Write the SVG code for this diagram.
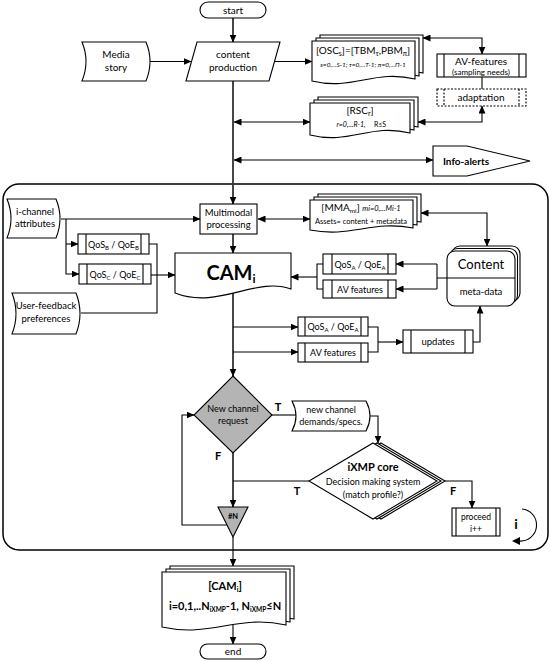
<svg xmlns="http://www.w3.org/2000/svg" width="550" height="661" viewBox="0 0 550 661" font-size="10">
<defs>
<marker id="ar" markerUnits="userSpaceOnUse" markerWidth="8" markerHeight="7" refX="7.5" refY="3.5" orient="auto-start-reverse"><path d="M0,0 L8,3.5 L0,7 Z" fill="#000"/></marker>
<style>
.s{fill:#fff;stroke:#000;stroke-width:1.1}
.g{fill:#b4b4b4;stroke:#000;stroke-width:1.1}
.d{fill:#fff;stroke:#000;stroke-width:1.1;stroke-dasharray:2,1.5}
.t{font-family:Lato,"Open Sans","DejaVu Sans",sans-serif;text-anchor:middle;fill:#000}
.b{font-weight:bold}
.i{font-style:italic}
.c{fill:none;stroke:#000;stroke-width:1.1}
.m{fill:none;stroke:#333;stroke-width:1.8}
.a{marker-end:url(#ar)}
.aa{marker-start:url(#ar);marker-end:url(#ar)}
</style>
</defs>
<rect x="3" y="184" width="545" height="366" rx="16" fill="none" stroke="#000" stroke-width="1.5"/>
<g id="connectors">
<path class="m a" d="M233,18 V42"/>
<path class="c a" d="M150,61.5 H191"/>
<path class="c a" d="M275,61.5 H312"/>
<path class="m a" d="M233,81 V204"/>
<path class="c aa" d="M234,122 H310"/>
<path class="c aa" d="M234,160 H433"/>
<path class="c aa" d="M423,38 H482 V54"/>
<path class="c" d="M482,77 V89"/>
<path class="c aa" d="M418,122 H482 V106"/>
<path class="c a" d="M61,219 H200"/>
<path class="c a" d="M66,219 V274 H79"/>
<path class="c a" d="M66,244 H78"/>
<path class="c" d="M149,244 H157 V313 H81"/>
<path class="c a" d="M151,275 H175"/>
<path class="m a" d="M233,234 V253"/>
<path class="c aa" d="M258,219 H310"/>
<path class="c aa" d="M421,213 H487 V246"/>
<path class="c" d="M447,278 H437 M437,264 V289"/>
<path class="c a" d="M437,264 H396"/>
<path class="c a" d="M437,289 H396"/>
<path class="c" d="M323,264 H317 V289 H323"/>
<path class="c a" d="M317,277 H291"/>
<path class="m a" d="M233,293 V376"/>
<path class="c a" d="M233,327 H298"/>
<path class="c a" d="M233,352 H298"/>
<path class="c" d="M368,327 H378 V352 H368"/>
<path class="c a" d="M378,342 H403"/>
<path class="c a" d="M473,342 H480 V306"/>
<path class="c" d="M272,415 H296"/>
<path class="c a" d="M370,416 H378 V443"/>
<path class="m a" d="M233,453 V507"/>
<path class="c" d="M309,481 H233"/>
<path class="c a" d="M227,525 H182 V415 H194"/>
<path class="c a" d="M233,537 V566"/>
<path class="c a" d="M445,481 H472 V508"/>
<path class="c a" d="M233,625 V644"/>
<path class="c" d="M522,509 A16,16 0 0 1 519,541"/>
<path d="M512,541 L520,537 L520,545 Z" fill="#000"/>
</g>
<g id="start"><rect class="s" x="200" y="2" width="66" height="16" rx="8"/><text class="t" x="233" y="14">start</text></g>
<g id="media"><path class="s" d="M82,42 H146 Q154,61.5 146,81 H82 Q90,61.5 82,42 Z"/><text class="t" x="116" y="58">Media</text><text class="t" x="116" y="71">story</text></g>
<g id="content-production"><polygon class="s" points="197,42 280,42 269,81 186,81"/><text class="t" x="233" y="58">content</text><text class="t" x="233" y="71">production</text></g>
<g id="osc">
<path class="s" transform="translate(8,-6)" d="M312,41 H415 V79 C373.8,69 353.2,91 312,81 Z"/>
<path class="s" transform="translate(4,-3)" d="M312,41 H415 V79 C373.8,69 353.2,91 312,81 Z"/>
<path class="s" d="M312,41 H415 V79 C373.8,69 353.2,91 312,81 Z"/>
<text class="t" x="363" y="54">[OSC<tspan font-size="7" dy="2">s</tspan><tspan dy="-2">]=[TBM</tspan><tspan font-size="7" dy="2">τ</tspan><tspan dy="-2">,PBM</tspan><tspan font-size="7" dy="2">π</tspan><tspan dy="-2">]</tspan></text>
<text class="t i" x="363" y="67" font-size="6.5">s=0,...S-1; τ=0,...T-1; π=0,...Π-1</text>
</g>
<g id="av-features"><rect class="s" x="437" y="54" width="89" height="23"/><path class="c" d="M444,54 V77 M519,54 V77"/><text class="t" x="481" y="64.5">AV-features</text><text class="t" x="481" y="74.5" font-size="8">(sampling needs)</text></g>
<g id="adaptation"><rect class="d" x="437" y="89" width="89" height="17"/><path class="c" stroke-dasharray="2,1.5" d="M444,89 V106 M519,89 V106"/><text class="t" x="481" y="101">adaptation</text></g>
<g id="rsc">
<path class="s" transform="translate(8,-6)" d="M310,103 H410 V133 C370,123 350,145 310,135 Z"/>
<path class="s" transform="translate(4,-3)" d="M310,103 H410 V133 C370,123 350,145 310,135 Z"/>
<path class="s" d="M310,103 H410 V133 C370,123 350,145 310,135 Z"/>
<text class="t" x="360" y="114">[RSC<tspan font-size="7" dy="2">r</tspan><tspan dy="-2">]</tspan></text>
<text class="t i" x="351" y="127" font-size="7">r=0,...R-1,</text>
<text class="t" x="380" y="127" font-size="7">R≤S</text>
</g>
<g id="info-alerts"><polygon class="s" points="433,146 467,146 530,161 467,176 433,176"/><text class="t b" x="466" y="164.5">Info-alerts</text></g>
<g id="multimodal"><rect class="s" x="200" y="204" width="57" height="30"/><text class="t" x="228.5" y="216" font-size="9.5">Multimodal</text><text class="t" x="228.5" y="228" font-size="9.5">processing</text></g>
<g id="i-channel"><path class="s" d="M7,199 H56 Q64,218.5 56,238 H7 Q15,218.5 7,199 Z"/><text class="t" x="35" y="215" font-size="9.5">i-channel</text><text class="t" x="35" y="227" font-size="9.5">attributes</text></g>
<g id="qos-b"><rect class="s" x="78" y="234" width="71" height="20"/><path class="c" d="M86,234 V254 M141,234 V254"/><text class="t" x="113.5" y="247.5" font-size="9">QoS<tspan font-size="6" dy="2">B</tspan><tspan dy="-2"> / QoE</tspan><tspan font-size="6" dy="2">B</tspan></text></g>
<g id="qos-c"><rect class="s" x="79" y="264" width="72" height="20"/><path class="c" d="M87,264 V284 M143,264 V284"/><text class="t" x="115" y="277.5" font-size="9">QoS<tspan font-size="6" dy="2">C</tspan><tspan dy="-2"> / QoE</tspan><tspan font-size="6" dy="2">C</tspan></text></g>
<g id="user-feedback"><path class="s" d="M12,293 H76 Q84,313.5 76,334 H12 Q20,313.5 12,293 Z"/><text class="t" x="46" y="309" font-size="9.5">User-feedback</text><text class="t" x="46" y="322" font-size="9.5">preferences</text></g>
<g id="cam"><path class="s" d="M175,253 H291 V289 C256,276 218,310 175,293 Z"/><text class="t b" x="231" y="280" font-size="20">CAM<tspan font-size="12" dy="3">i</tspan></text></g>
<g id="mma">
<path class="s" transform="translate(8,-6)" d="M310,200 H413 V228 C371.8,220 351.2,238 310,230 Z"/>
<path class="s" transform="translate(4,-3)" d="M310,200 H413 V228 C371.8,220 351.2,238 310,230 Z"/>
<path class="s" d="M310,200 H413 V228 C371.8,220 351.2,238 310,230 Z"/>
<text class="t" x="361" y="211">[MMA<tspan font-size="6.5" dy="2">mi</tspan><tspan dy="-2">] </tspan><tspan class="i" font-size="7.5">mi=0,...Mi-1</tspan></text>
<text class="t" x="361" y="224" font-size="7.5">Assets= content + metadata</text>
</g>
<g id="content">
<rect class="s" x="452" y="246" width="68" height="55" rx="8"/>
<rect class="s" x="449.5" y="248.5" width="68" height="55" rx="8"/>
<rect class="s" x="447" y="251" width="68" height="55" rx="8"/>
<path class="c" d="M447,278 H515"/>
<text class="t" x="481" y="269" font-size="13">Content</text>
<text class="t" x="481" y="295" font-size="9.5">meta-data</text>
</g>
<g id="qos-a-1"><rect class="s" x="323" y="254" width="73" height="20"/><path class="c" d="M332,254 V274 M388,254 V274"/><text class="t" x="360" y="267.5" font-size="9">QoS<tspan font-size="6" dy="2">A</tspan><tspan dy="-2"> / QoE</tspan><tspan font-size="6" dy="2">A</tspan></text></g>
<g id="av-1"><rect class="s" x="323" y="280" width="73" height="18"/><path class="c" d="M332,280 V298 M388,280 V298"/><text class="t" x="360" y="292.5" font-size="9">AV features</text></g>
<g id="qos-a-2"><rect class="s" x="298" y="317" width="70" height="19"/><path class="c" d="M305,317 V336 M361,317 V336"/><text class="t" x="333" y="330" font-size="9">QoS<tspan font-size="6" dy="2">A</tspan><tspan dy="-2"> / QoE</tspan><tspan font-size="6" dy="2">A</tspan></text></g>
<g id="av-2"><rect class="s" x="298" y="343" width="70" height="19"/><path class="c" d="M305,343 V362 M361,343 V362"/><text class="t" x="333" y="356" font-size="9">AV features</text></g>
<g id="updates"><rect class="s" x="403" y="330" width="70" height="23"/><path class="c" d="M411,330 V353 M465,330 V353"/><text class="t" x="438" y="345" font-size="9.5">updates</text></g>
<g id="new-channel-request"><polygon class="g" points="233,376 272,415 233,453 194,415"/><text class="t" x="233" y="412" font-size="9">New channel</text><text class="t" x="233" y="424" font-size="9">request</text></g>
<g id="demands"><path class="s" d="M292,401 H366 Q374,416 366,431 H292 Q300,416 292,401 Z"/><text class="t" x="331" y="413" font-size="9">new channel</text><text class="t" x="331" y="425" font-size="9">demands/specs.</text></g>
<g id="ixmp">
<polygon class="s" transform="translate(8,0)" points="373,443 437,481 373,519 309,481"/>
<polygon class="s" transform="translate(4,0)" points="373,443 437,481 373,519 309,481"/>
<polygon class="s" points="373,443 437,481 373,519 309,481"/>
<text class="t b" x="373" y="471" font-size="11">iXMP core</text>
<text class="t" x="373" y="485" font-size="9">Decision making system</text>
<text class="t" x="373" y="498" font-size="9">(match profile?)</text>
</g>
<g id="labels">
<text class="t b" x="278" y="411" font-size="11">T</text>
<text class="t b" x="218" y="460" font-size="11">F</text>
<text class="t b" x="297" y="495" font-size="11">T</text>
<text class="t b" x="453" y="495" font-size="11">F</text>
</g>
<g id="hash-n"><polygon class="g" points="218,507 248,507 233,537"/><text class="t b" x="233" y="519" font-size="7.5">#N</text></g>
<g id="proceed"><rect class="s" x="452" y="508" width="48" height="28"/><path class="c" d="M456,508 V536 M496,508 V536"/><text class="t" x="476" y="520" font-size="8.5">proceed</text><text class="t" x="476" y="532" font-size="8.5">i++</text></g>
<g id="loop-i"><text class="t b" x="516" y="529" font-size="14">i</text></g>
<g id="cam-list">
<path class="s" transform="translate(8,-6)" d="M162,572 H286 V625 C236.4,614 211.6,638 162,627 Z"/>
<path class="s" transform="translate(4,-3)" d="M162,572 H286 V625 C236.4,614 211.6,638 162,627 Z"/>
<path class="s" d="M162,572 H286 V625 C236.4,614 211.6,638 162,627 Z"/>
<text class="t b" x="225" y="590" font-size="11">[CAM<tspan font-size="7" dy="2">i</tspan><tspan dy="-2">]</tspan></text>
<text class="t b" x="225" y="610" font-size="11">i=0,1,..N<tspan font-size="6.5" dy="2">iXMP</tspan><tspan dy="-2">-1, N</tspan><tspan font-size="6.5" dy="2">iXMP</tspan><tspan dy="-2">≤N</tspan></text>
</g>
<g id="end"><rect class="s" x="200" y="644" width="66" height="15" rx="7.5"/><text class="t" x="233" y="655">end</text></g>
</svg>
